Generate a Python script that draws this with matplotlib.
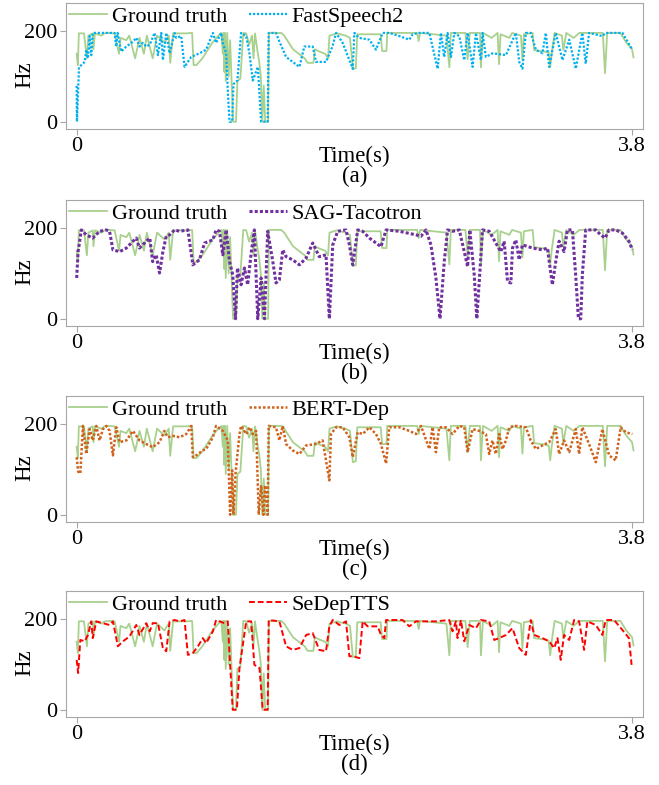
import numpy as np
import matplotlib
matplotlib.use('Agg')
import matplotlib.pyplot as plt

plt.rcParams['font.family'] = ['Liberation Serif', 'DejaVu Serif']

# ground truth F0 contour, same in all four panels  [s], [Hz]
gt_t = [0.00, 0.008, 0.015, 0.05, 0.07, 0.08, 0.11, 0.115, 0.125, 0.17, 0.19, 0.22, 0.26, 0.29, 0.30, 0.34,
        0.36, 0.40, 0.43, 0.46, 0.48, 0.52, 0.55, 0.60, 0.63, 0.64, 0.66, 0.75, 0.79, 0.80, 0.82, 0.86,
        0.90, 0.93, 0.97, 0.99, 1.00, 1.005, 1.01, 1.015, 1.02, 1.03, 1.04, 1.05, 1.06, 1.07, 1.09, 1.10,
        1.12, 1.14, 1.16, 1.18, 1.20, 1.21, 1.22, 1.24, 1.25, 1.26, 1.27, 1.28, 1.29, 1.31, 1.315, 1.40,
        1.42, 1.45, 1.48, 1.52, 1.56, 1.58, 1.62, 1.63, 1.66, 1.70, 1.72, 1.73, 1.78, 1.84, 1.87, 1.89,
        1.91, 1.92, 2.08, 2.09, 2.12, 2.125, 2.33, 2.34, 2.35, 2.53, 2.55, 2.56, 2.66, 2.675, 2.69, 2.76,
        2.766, 2.78, 2.84, 2.88, 2.89, 2.90, 2.96, 2.98, 3.04, 3.05, 3.06, 3.12, 3.13, 3.20, 3.23, 3.24,
        3.25, 3.27, 3.32, 3.33, 3.35, 3.40, 3.44, 3.60, 3.615, 3.63, 3.72, 3.76, 3.80, 3.81]
gt_hz = [150, 125, 195, 195, 140, 190, 195, 160, 195, 190, 195, 196, 195, 150, 185, 180,
         190, 140, 185, 150, 190, 140, 190, 175, 190, 130, 195, 195, 196, 125, 125, 140,
         160, 175, 190, 196, 150, 196, 110, 196, 90, 196, 100, 180, 90, 0, 0, 90,
         95, 196, 195, 170, 190, 140, 195, 150, 130, 100, 0, 80, 0, 0, 196, 196,
         190, 175, 160, 150, 140, 130, 130, 160, 155, 150, 140, 190, 195, 190, 185, 116,
         118, 193, 193, 156, 156, 196, 196, 178, 196, 190, 120, 196, 196, 138, 196, 196,
         120, 196, 185, 196, 127, 193, 185, 196, 190, 135, 193, 196, 158, 155, 152, 120,
         150, 196, 190, 158, 196, 185, 196, 196, 107, 196, 196, 175, 160, 142]

fs2_t = [0.00, 0.002, 0.016, 0.032, 0.055, 0.066, 0.077, 0.089, 0.10, 0.11, 0.225, 0.26, 0.27, 0.28, 0.305,
         0.34, 0.374, 0.41, 0.43, 0.453, 0.476, 0.50, 0.533, 0.556, 0.579, 0.59, 0.613, 0.636, 0.67, 0.681,
         0.715, 0.738, 0.784, 0.84, 0.886, 0.932, 0.954, 0.989, 1.0, 1.023, 1.034, 1.046, 1.064, 1.073, 1.10,
         1.125, 1.16, 1.182, 1.205, 1.24, 1.262, 1.307, 1.314, 1.364, 1.387, 1.433, 1.478, 1.524, 1.558, 1.615,
         1.638, 1.706, 1.75, 1.775, 1.82, 1.866, 1.889, 1.90, 1.934, 2.003, 2.048, 2.094, 2.139, 2.208, 2.276,
         2.299, 2.344, 2.413, 2.47, 2.492, 2.515, 2.538, 2.561, 2.584, 2.618, 2.652, 2.675, 2.709, 2.732, 2.766,
         2.777, 2.80, 2.845, 2.937, 3.005, 3.028, 3.05, 3.073, 3.107, 3.142, 3.187, 3.21, 3.233, 3.278, 3.324,
         3.37, 3.415, 3.46, 3.483, 3.506, 3.597, 3.62, 3.734, 3.802]
fs2_hz = [79, 0, 121, 125, 132, 159, 140, 189, 147, 196, 196, 196, 166, 196, 155,
          166, 174, 185, 166, 174, 166, 170, 196, 147, 196, 136, 196, 151, 196, 185,
          189, 121, 143, 151, 159, 196, 174, 196, 174, 151, 68, 0, 0, 83, 91,
          196, 189, 151, 91, 121, 0, 0, 196, 196, 177, 143, 132, 121, 166, 166,
          132, 132, 166, 196, 174, 136, 117, 196, 185, 181, 159, 196, 196, 189, 181,
          193, 196, 196, 117, 196, 143, 196, 143, 196, 189, 136, 196, 121, 196, 136,
          196, 143, 151, 147, 196, 132, 117, 196, 196, 159, 151, 196, 121, 196, 136,
          181, 117, 196, 128, 196, 189, 196, 196, 159]

sag_t = [0.0, 0.01, 0.032, 0.066, 0.11, 0.157, 0.203, 0.225, 0.248, 0.294, 0.34, 0.385, 0.408, 0.43, 0.476,
         0.50, 0.52, 0.544, 0.567, 0.59, 0.613, 0.636, 0.67, 0.704, 0.761, 0.795, 0.84, 0.875, 0.932, 0.954,
         0.977, 1.0, 1.023, 1.046, 1.068, 1.087, 1.10, 1.125, 1.148, 1.17, 1.194, 1.216, 1.239, 1.262, 1.285,
         1.307, 1.342, 1.364, 1.387, 1.41, 1.433, 1.478, 1.524, 1.57, 1.615, 1.66, 1.706, 1.729, 1.752, 1.786,
         1.843, 1.866, 1.889, 1.923, 1.957, 2.003, 2.082, 2.117, 2.208, 2.322, 2.356, 2.39, 2.424, 2.458, 2.486,
         2.515, 2.538, 2.572, 2.618, 2.652, 2.675, 2.69, 2.72, 2.738, 2.759, 2.777, 2.823, 2.868, 2.902, 2.925,
         2.948, 2.971, 2.982, 3.005, 3.028, 3.05, 3.119, 3.187, 3.221, 3.255, 3.278, 3.301, 3.335, 3.358, 3.392,
         3.415, 3.433, 3.449, 3.46, 3.483, 3.552, 3.586, 3.615, 3.643, 3.688, 3.734, 3.779, 3.802]
sag_hz = [90, 148, 196, 185, 178, 193, 196, 193, 152, 148, 156, 171, 178, 156, 171,
          178, 126, 141, 101, 148, 182, 185, 196, 193, 196, 119, 130, 167, 174, 196,
          193, 141, 196, 126, 97, 0, 112, 75, 112, 75, 145, 196, 0, 90, 0,
          193, 126, 79, 86, 152, 137, 130, 119, 134, 167, 137, 141, 0, 163, 193,
          196, 163, 119, 196, 193, 178, 159, 196, 193, 185, 182, 196, 163, 90, 0,
          126, 196, 193, 196, 148, 115, 196, 97, 0, 104, 196, 193, 167, 148, 171,
          82, 79, 156, 174, 130, 163, 156, 152, 156, 75, 126, 171, 148, 196, 196,
          93, 0, 0, 97, 196, 196, 185, 178, 196, 196, 189, 171, 152]

bert_t = [0.0, 0.01, 0.025, 0.043, 0.066, 0.089, 0.11, 0.134, 0.157, 0.18, 0.203, 0.225, 0.248, 0.271, 0.294,
          0.34, 0.385, 0.43, 0.476, 0.52, 0.567, 0.60, 0.624, 0.658, 0.704, 0.75, 0.784, 0.795, 0.818, 0.863,
          0.886, 0.932, 0.954, 1.0, 1.034, 1.05, 1.064, 1.073, 1.087, 1.114, 1.125, 1.16, 1.182, 1.205, 1.228,
          1.246, 1.262, 1.278, 1.29, 1.307, 1.314, 1.364, 1.387, 1.41, 1.433, 1.478, 1.524, 1.57, 1.638, 1.683,
          1.729, 1.74, 1.775, 1.82, 1.866, 1.889, 1.923, 1.957, 2.003, 2.048, 2.082, 2.117, 2.139, 2.208, 2.276,
          2.322, 2.356, 2.413, 2.435, 2.458, 2.481, 2.527, 2.572, 2.618, 2.652, 2.675, 2.709, 2.754, 2.80, 2.823,
          2.845, 2.868, 2.891, 2.914, 2.937, 2.96, 3.005, 3.073, 3.107, 3.142, 3.187, 3.233, 3.278, 3.301, 3.335,
          3.37, 3.415, 3.438, 3.46, 3.506, 3.552, 3.597, 3.643, 3.688, 3.722, 3.757, 3.802]
bert_hz = [127, 95, 91, 196, 134, 189, 164, 196, 164, 189, 196, 185, 131, 193, 160,
           164, 185, 164, 156, 149, 160, 185, 171, 174, 171, 178, 196, 127, 131, 142,
           145, 171, 196, 185, 164, 0, 98, 0, 91, 178, 196, 178, 193, 178, 185,
           0, 65, 0, 65, 0, 196, 193, 164, 196, 156, 142, 134, 153, 156, 164,
           76, 178, 193, 193, 171, 127, 182, 178, 193, 178, 156, 113, 193, 193, 185,
           178, 196, 145, 193, 138, 193, 193, 178, 196, 193, 138, 189, 185, 178, 134,
           164, 134, 178, 145, 164, 193, 196, 193, 164, 145, 153, 160, 189, 134, 164,
           138, 189, 134, 193, 156, 116, 189, 131, 120, 193, 182, 178]

sed_t = [0.0, 0.01, 0.025, 0.055, 0.077, 0.10, 0.11, 0.134, 0.18, 0.225, 0.248, 0.282, 0.317, 0.362, 0.408,
         0.43, 0.476, 0.50, 0.52, 0.556, 0.59, 0.613, 0.636, 0.67, 0.704, 0.738, 0.761, 0.795, 0.83, 0.863,
         0.886, 0.932, 0.954, 0.977, 1.011, 1.034, 1.05, 1.068, 1.096, 1.114, 1.16, 1.194, 1.216, 1.251, 1.273,
         1.307, 1.314, 1.387, 1.433, 1.478, 1.524, 1.57, 1.615, 1.66, 1.706, 1.729, 1.752, 1.797, 1.843, 1.866,
         1.889, 1.934, 1.957, 1.991, 2.06, 2.082, 2.105, 2.117, 2.23, 2.276, 2.322, 2.458, 2.549, 2.572, 2.595,
         2.606, 2.629, 2.652, 2.686, 2.732, 2.766, 2.823, 2.857, 2.891, 2.937, 2.982, 3.028, 3.073, 3.107, 3.13,
         3.187, 3.233, 3.267, 3.29, 3.312, 3.335, 3.37, 3.404, 3.438, 3.472, 3.494, 3.552, 3.597, 3.62, 3.677,
         3.734, 3.779, 3.797]
sed_hz = [110, 81, 154, 151, 165, 195, 158, 195, 191, 187, 195, 140, 151, 162, 187,
          165, 191, 173, 191, 191, 136, 129, 195, 198, 195, 198, 121, 125, 140, 158,
          147, 173, 198, 195, 191, 195, 99, 0, 0, 92, 195, 195, 99, 92, 0,
          0, 198, 195, 140, 132, 136, 165, 169, 132, 129, 184, 198, 187, 195, 118,
          118, 114, 195, 184, 184, 165, 158, 198, 198, 184, 195, 195, 198, 173, 195,
          158, 198, 151, 187, 180, 198, 195, 154, 158, 165, 180, 136, 121, 198, 165,
          158, 151, 136, 158, 110, 165, 154, 198, 195, 132, 195, 187, 165, 198, 198,
          176, 158, 99]

panels = [
    ('FastSpeech2', fs2_t, fs2_hz, '#00b0f0', (0, (1, 0.8)), 1.6, '(a)'),
    ('SAG-Tacotron', sag_t, sag_hz, '#7030a0', (0, (1, 0.7)), 2.2, '(b)'),
    ('BERT-Dep', bert_t, bert_hz, '#d0621b', (0, (1, 0.8)), 1.8, '(c)'),
    ('SeDepTTS', sed_t, sed_hz, '#ff0000', (0, (3, 1.5)), 1.4, '(d)'),
]

W, H = 659, 785
fig = plt.figure(figsize=(W / 100, H / 100), dpi=100)
tops = [3, 200, 396, 591]   # axes top edges in pixels
ax_h = 126
gray = '#a6a6a6'

for (name, t, hz, col, ls, lw, cap), top in zip(panels, tops):
    ax = fig.add_axes([66 / W, 1 - (top + ax_h) / H, 577 / W, ax_h / H])
    ax.plot(gt_t, gt_hz, color='#a9d18e', lw=1.3, label='Ground truth')
    ax.plot(t, hz, color=col, ls=ls, lw=lw, label=name)
    ax.set_xlim(-0.073, 3.875)
    ax.set_ylim(-16, 262)
    ax.set_xticks([0, 3.8])
    ax.set_xticklabels(['0', '3.8'])
    ax.set_yticks([0, 200])
    for s in ax.spines.values():
        s.set_color(gray)
    ax.tick_params(colors=gray, labelcolor='black', labelsize=16, length=4, pad=2)
    ax.text(-0.071, 0.43, 'Hz', transform=ax.transAxes, rotation=90,
            ha='center', va='center', fontsize=16.5)
    ax.text(0.5, -0.215, 'Time(s)', transform=ax.transAxes, ha='center', va='center', fontsize=16.5)
    ax.text(0.5, -0.375, cap, transform=ax.transAxes, ha='center', va='center', fontsize=16.5)
    ax.legend(loc='upper left', ncol=2, frameon=False, fontsize=16, handlelength=1.7,
              handletextpad=0.2, columnspacing=1.0, borderaxespad=0.0, borderpad=0.15)

fig.savefig('out.png', dpi=100)
